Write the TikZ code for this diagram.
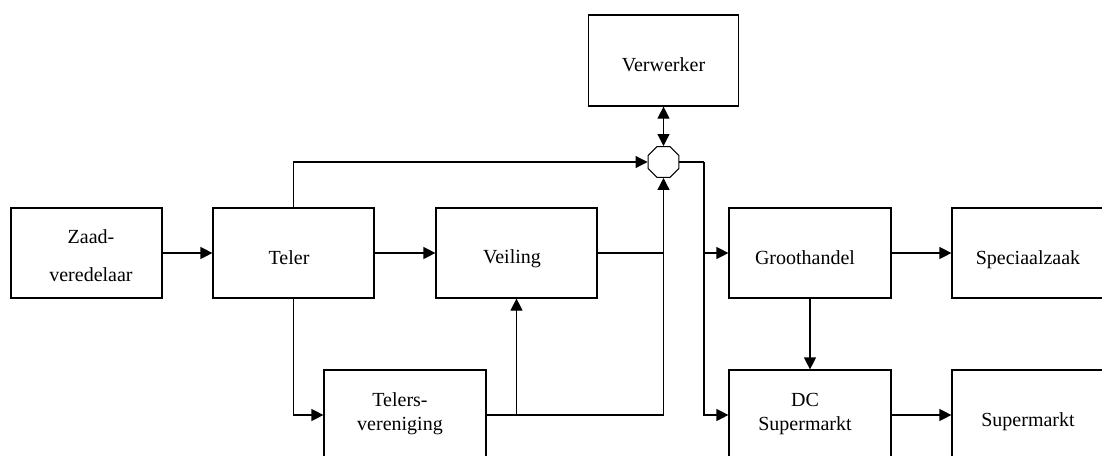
\documentclass[tikz,border=0pt]{standalone}
\usepackage{fontspec}
\setmainfont{Liberation Serif}
\usetikzlibrary{arrows.meta,shapes.geometric}

\tikzset{
  box/.style={draw, rectangle, inner sep=0pt, minimum width=161pt, minimum height=90pt},
  lbl/.style={anchor=base, inner sep=0pt, font=\fontsize{20}{24}\selectfont},
  hubshape/.style={draw, regular polygon, regular polygon sides=8, minimum size=33.5pt, inner sep=0pt, line width=1pt},
  link/.style={line width=1.2pt},
  arr/.style={link, -{Triangle[length=12pt,width=12pt]}},
  arrboth/.style={link, {Triangle[length=12pt,width=12pt]}-{Triangle[length=12pt,width=12pt]}},
}

\begin{document}
\begin{tikzpicture}[x=1pt, y=-1pt, line width=1.2pt]
\useasboundingbox (0,0) rectangle (1102,455);
\clip (0,0) rectangle (1102,455);

% boxes
\node[box, minimum width=151pt] (zaad)   at (86.5,253) {};
\node[box] (teler)  at (293.5,253) {};
\node[box] (veil)   at (516.5,253) {};
\node[box, minimum width=150pt, minimum height=91pt] (verw) at (663.5,60.5) {};
\node[box, minimum width=162pt] (telers) at (405,415) {};
\node[box, minimum width=162pt] (groot)  at (810,253) {};
\node[box, minimum width=162pt] (dcs)    at (810,415) {};
\node[box, minimum width=162pt] (spec)   at (1033,253) {};
\node[box, minimum width=162pt] (superm) at (1033,415) {};
\node[hubshape] (hub) at (663.5,162) {};

% labels
\node[lbl] (zaad-a) at ([xshift=4.5pt,yshift=10pt]zaad.center) {Zaad-};
\node[lbl] (zaad-b) at ([xshift=4.5pt,yshift=-28pt]zaad.center) {veredelaar};
\node[lbl] (teler-t) at ([xshift=-4.5pt,yshift=-11pt]teler.center) {Teler};
\node[lbl] (veil-t) at ([xshift=-4.5pt,yshift=-10.5pt]veil.center) {Veiling};
\node[lbl] (verw-t) at ([yshift=-10.5pt]verw.center) {Verwerker};
\node[lbl] (telers-a) at ([xshift=-5pt,yshift=8.3pt]telers.center) {Telers-};
\node[lbl] (telers-b) at ([xshift=-5pt,yshift=-15pt]telers.center) {vereniging};
\node[lbl] (groot-t) at ([xshift=-5pt,yshift=-11pt]groot.center) {Groothandel};
\node[lbl] (dcs-a) at ([xshift=-5pt,yshift=8.3pt]dcs.center) {DC};
\node[lbl] (dcs-b) at ([xshift=-5pt,yshift=-15.5pt]dcs.center) {Supermarkt};
\node[lbl] (spec-t) at ([xshift=-5pt,yshift=-11pt]spec.center) {Speciaalzaak};
\node[lbl] (superm-t) at ([xshift=-5pt,yshift=-11.7pt]superm.center) {Supermarkt};

% connectors
\coordinate (bus) at (704,162);
\draw[arr] (zaad.east) -- (teler.west);
\draw[arr] (teler.east) -- (veil.west);
\draw[arr] (teler.north) |- (hub.west);
\draw[arr] (teler.south) |- (telers.west);
\draw[link] (veil.east) -- (veil.east -| hub.south);
\draw[arr] (telers.east) -| (hub.south);
\draw[arr] (telers.east -| veil.south) -- (veil.south);
\draw[arrboth] (verw.south) -- (hub.north);
\draw[link] (hub.east) -- (bus);
\draw[arr] (bus) |- (groot.west);
\draw[arr] (bus) |- (dcs.west);
\draw[arr] (groot.east) -- (spec.west);
\draw[arr] (groot.south) -- (dcs.north);
\draw[arr] (dcs.east) -- (superm.west);
\end{tikzpicture}
\end{document}
